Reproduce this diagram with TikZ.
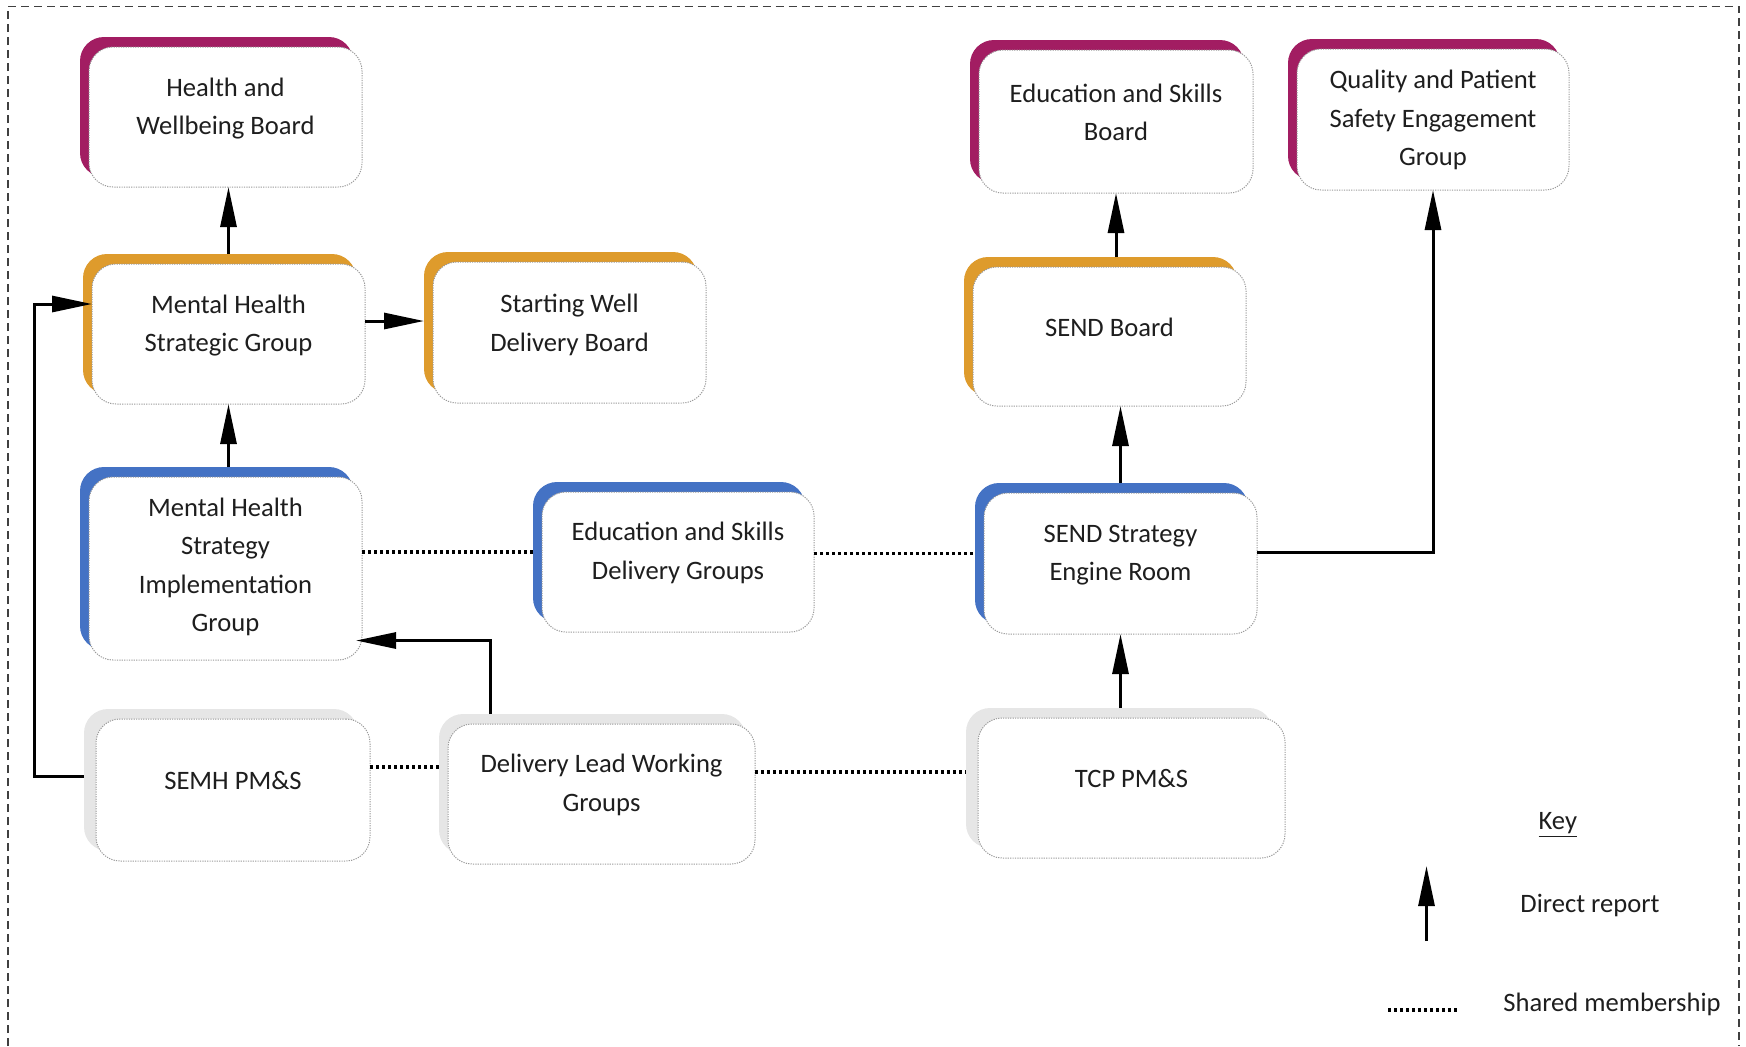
\documentclass[tikz,border=0pt]{standalone}
\usepackage{fontspec}
\setmainfont{Carlito}
\usetikzlibrary{arrows.meta,calc}
\definecolor{magentab}{HTML}{A21D62}
\definecolor{orangeb}{HTML}{DE9B2C}
\definecolor{blueb}{HTML}{4472C4}
\definecolor{grayb}{HTML}{E6E6E6}
\definecolor{txtc}{HTML}{1E1E1E}
\definecolor{edgec}{HTML}{9A9A9A}
\tikzset{
  backbox/.style={rectangle, rounded corners=12pt, draw=none, inner sep=0pt, outer sep=0pt},
  frontbox/.style={rectangle, rounded corners=12pt, fill=white, draw=edgec, line width=0.5pt,
    dash pattern=on 0.6pt off 0.6pt, inner sep=0pt, outer sep=0pt},
  boxtext/.style={align=center, inner sep=0pt, text=txtc, font=\fontsize{13.3pt}{19.25pt}\selectfont},
  arr/.style={line width=1.5pt, -{Triangle[length=20pt,width=8pt]}},
  shared/.style={line width=1.7pt, dash pattern=on 1.5pt off 1.5pt},
  framestyle/.style={line width=0.6pt, draw=black!75, dash pattern=on 4pt off 2.5pt}
}
% #1 name, #2 colour, #3 back x offset, #4 cx, #5 cy, #6 w, #7 h, #8 text lift, #9 text
\newcommand{\orgbox}[9]{%
  \node[backbox, fill=#2, minimum width=#6*0.5pt, minimum height=#7*0.5pt] (#1back) at (#4-#3,#5-10) {};
  \node[frontbox, minimum width=#6*0.5pt, minimum height=#7*0.5pt] (#1) at (#4,#5) {};
  \node[boxtext] (#1text) at (#4,#5-#8) {#9};
}
\begin{document}
\begin{tikzpicture}[x=0.5pt, y=-0.5pt]
\useasboundingbox (0,0) rectangle (1746,1046);
\draw[framestyle] (8,1046) -- (8,6.5) -- (1739,6.5) -- (1739,1046);

% boxes
\orgbox{hwb}{magentab}{9}{225.5}{117}{273}{140}{8.3}{Health and\\Wellbeing Board}
\orgbox{mhsg}{orangeb}{9}{228.5}{334}{273}{140}{8.3}{Mental Health\\Strategic Group}
\orgbox{swdb}{orangeb}{9}{569.5}{332.5}{273}{141}{7.8}{Starting Well\\Delivery Board}
\orgbox{edsb}{magentab}{9}{1116}{121.5}{274}{143}{9}{Education and Skills\\Board}
\orgbox{qpseg}{magentab}{9}{1433}{119.5}{272}{141}{-0.5}{Quality and Patient\\Safety Engagement\\Group}
\orgbox{sendb}{orangeb}{9}{1109.5}{336.5}{273}{139}{9.5}{SEND Board}
\orgbox{mhsig}{blueb}{9}{225.5}{568.5}{273}{183}{1.5}{Mental Health\\Strategy\\Implementation\\Group}
\orgbox{esdg}{blueb}{9}{678}{562}{272}{140}{9.3}{Education and Skills\\Delivery Groups}
\orgbox{sendser}{blueb}{9}{1120.5}{563.5}{273}{141}{8.5}{SEND Strategy\\Engine Room}
\orgbox{semh}{grayb}{12}{233}{790}{274}{142}{10}{SEMH PM\&S}
\orgbox{dlwg}{grayb}{9}{601.5}{794}{307}{140}{9}{Delivery Lead Working\\Groups}
\orgbox{tcp}{grayb}{12}{1131.5}{788}{307}{140}{9.7}{TCP PM\&S}

% direct reports
\draw[arr] (mhsg.center |- mhsgback.north) -- (mhsg.center |- hwb.south);
\coordinate (a1) at ($(mhsg.east)+(0,-13)$);
\draw[arr] (a1) -- (a1 -| swdbback.west);
\draw[arr] (mhsg.center |- mhsigback.north) -- (mhsg.south);
\coordinate (leftrail) at (34.5,0);
\coordinate (a0) at ($(semhback.west)+(0,-4)$);
\coordinate (a2) at ($(mhsg.west)+(0,-30)$);
\draw[arr] (a0) -- (a0 -| leftrail) |- (a2);
\coordinate (a3) at ($(dlwgback.north west)+(51,0)$);
\coordinate (a4) at ($(mhsig.east)+(-6,72)$);
\draw[arr] (a3) |- (a4);
\draw[arr] (edsb.center |- sendbback.north) -- (edsb.south);
\draw[arr] (sendser.center |- sendserback.north) -- (sendser.center |- sendb.south);
\coordinate (a5) at ($(sendser.east)+(0,-11)$);
\draw[arr] (a5) -| (qpseg.south);
\draw[arr] (sendser.center |- tcpback.north) -- (sendser.south);

% shared membership
\draw[shared] (mhsig.east |- esdgback.west) -- (esdgback.west);
\draw[shared] (esdg.east |- sendserback.west) -- (sendserback.west);
\coordinate (d1) at ($(semh.east)+(0,-23)$);
\draw[shared] (d1) -- (d1 -| dlwgback.west);
\coordinate (d2) at ($(dlwg.east)+(0,-22)$);
\draw[shared] (d2) -- (d2 -| tcpback.west);

% key
\node[boxtext] (keyhead) at (1557.8,825) {\underline{Key}};
\coordinate (keyA) at (1426.5,941);
\coordinate (keyB) at (1426.5,866);
\draw[arr] (keyA) -- (keyB);
\node[boxtext] (keyarr) at (1590,905) {Direct report};
\coordinate (keyC) at (1388,1010);
\coordinate (keyD) at (1458,1010);
\draw[shared] (keyC) -- (keyD);
\node[boxtext] (keydot) at (1612,1004) {Shared membership};
\end{tikzpicture}
\end{document}
